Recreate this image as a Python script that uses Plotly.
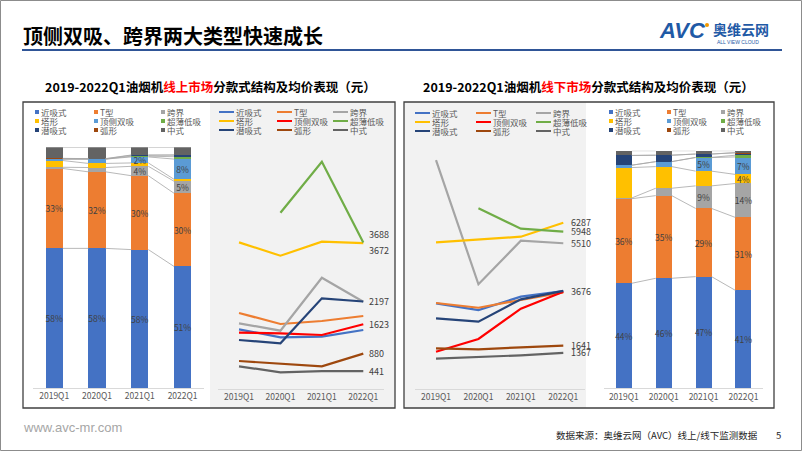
import plotly.graph_objects as go

W, H = 802, 451

# ---------------- data ----------------
quarters = ["2019Q1", "2020Q1", "2021Q1", "2022Q1"]
styles = ["近吸式", "T型", "跨界", "塔形", "顶侧双吸", "超薄低吸", "潜吸式", "弧形", "中式"]

# online market share (%), one row per style (same order as styles)
online_share = [
    [58.0, 58.0, 57.5, 50.5],
    [33.2, 31.8, 30.7, 30.4],
    [0.5, 1.8, 3.9, 5.0],
    [2.8, 1.7, 1.4, 0.8],
    [0.6, 1.8, 2.5, 8.4],
    [0.0, 0.0, 0.3, 1.0],
    [0.2, 0.1, 0.4, 0.7],
    [0.1, 0.1, 0.1, 0.0],
    [4.6, 4.7, 3.2, 3.2],
]
online_labels = [
    ["58%", "58%", "58%", "51%"],
    ["33%", "32%", "30%", "30%"],
    ["", "", "4%", "5%"],
    ["", "", "", ""],
    ["", "", "2%", "8%"],
    ["", "", "", ""],
    ["", "", "", ""],
    ["", "", "", ""],
    ["", "", "", ""],
]
# offline market share (%)
offline_share = [
    [44.2, 46.3, 47.0, 41.2],
    [35.6, 34.8, 28.7, 30.7],
    [0.3, 3.1, 9.5, 14.3],
    [12.8, 9.1, 6.2, 3.8],
    [1.0, 2.1, 5.7, 7.4],
    [0.0, 0.0, 0.1, 0.7],
    [4.1, 2.7, 1.4, 1.0],
    [0.0, 0.0, 0.0, 0.1],
    [2.0, 1.9, 1.4, 0.8],
]
offline_labels = [
    ["44%", "46%", "47%", "41%"],
    ["36%", "35%", "29%", "31%"],
    ["", "", "9%", "14%"],
    ["", "", "", "4%"],
    ["", "", "5%", "7%"],
    ["", "", "", ""],
    ["", "", "", ""],
    ["", "", "", ""],
    ["", "", "", ""],
]
# average price (元)
online_price = [
    [1494, 1293, 1309, 1477],
    [1907, 1629, 1705, 1831],
    [1646, 1460, 2798, 2190],
    [3690, 3354, 3707, 3672],
    [1410, 1393, 1351, 1623],
    [None, 4439, 5727, 3688],
    [1225, 1141, 2277, 2197],
    [694, 619, 560, 880],
    [560, 409, 441, 441],
]
offline_price = [
    [3240, 2988, 3491, 3700],
    [3253, 3075, 3366, 3650],
    [8655, 3959, 5606, 5510],
    [5546, 5659, 5758, 6287],
    [1413, 1893, 3037, 3676],
    [None, 6830, 6060, 5948],
    [2675, 2548, 3392, 3710],
    [1541, 1503, 1579, 1641],
    [1149, 1201, 1277, 1367],
]
# which series carry an end label (index into styles, vertical shift px)
online_end_labels = [(5, 8), (3, -7), (6, 0), (4, 0), (7, 0), (8, 0)]
offline_end_labels = [(3, 0), (5, 0), (2, 0), (4, 0), (7, 0), (8, 0)]

bar_colors = ["#4472C4", "#ED7D31", "#A5A5A5", "#FFC000", "#5B9BD5",
              "#70AD47", "#264478", "#9E480E", "#636363"]
line_colors = ["#4472C4", "#ED7D31", "#A5A5A5", "#FFC000", "#FF0000",
               "#70AD47", "#264478", "#9E480E", "#636363"]

FONT = "Noto Sans CJK SC"


def px_x(p):
    return p / W


def px_y(p):
    return 1 - p / H


fig = go.Figure()
xs = list(range(len(quarters)))
BW = 0.4
shapes = []
annos = []


def add_bars(shares, labels, xa, ya):
    for i, s in enumerate(styles):
        fig.add_trace(go.Bar(
            x=xs, y=shares[i], name=s, width=BW,
            marker=dict(color=bar_colors[i], line=dict(width=0)),
            text=labels[i], textposition="inside", insidetextanchor="middle",
            textangle=0, constraintext="none",
            textfont=dict(family=FONT, size=8.5, color="#404040"),
            xaxis=xa, yaxis=ya, showlegend=False, hoverinfo="skip"))
    # series connector lines between adjacent bars
    lx, ly = [], []
    cum = [0.0] * len(quarters)
    for i in range(len(styles)):
        cum = [c + v for c, v in zip(cum, shares[i])]
        for q in range(len(quarters) - 1):
            lx += [q + BW / 2, q + 1 - BW / 2, None]
            ly += [cum[q], cum[q + 1], None]
    fig.add_trace(go.Scatter(x=lx, y=ly, mode="lines",
                             line=dict(color="#A6A6A6", width=0.8),
                             xaxis=xa, yaxis=ya, showlegend=False,
                             hoverinfo="skip"))


def add_lines(prices, end_labels, xa, ya, xshift):
    for i, s in enumerate(styles):
        fig.add_trace(go.Scatter(
            x=xs, y=prices[i], name=s, mode="lines",
            line=dict(color=line_colors[i], width=2.2),
            connectgaps=False, xaxis=xa, yaxis=ya,
            showlegend=False, hoverinfo="skip"))
    for idx, ys in end_labels:
        v = prices[idx][-1]
        annos.append(dict(x=xs[-1], y=v, xref=xa, yref=ya, text=str(v),
                          showarrow=False, xanchor="left", yanchor="middle",
                          xshift=xshift, yshift=ys,
                          font=dict(family=FONT, size=9, color="#404040")))


add_bars(online_share, online_labels, "x", "y")
add_lines(online_price, online_end_labels, "x2", "y2", 4)
add_lines(offline_price, offline_end_labels, "x3", "y3", 6)
add_bars(offline_share, offline_labels, "x4", "y4")

xcommon = dict(range=[-0.5, 3.5], tickvals=xs, ticktext=quarters, showgrid=False,
               zeroline=False, showline=True, linecolor="#D9D9D9", linewidth=1,
               ticks="", tickfont=dict(family=FONT, size=8.5, color="#595959"),
               fixedrange=True)
ycommon = dict(visible=False, showgrid=False, zeroline=False, fixedrange=True)

fig.update_layout(
    xaxis=dict(domain=[px_x(32.8), px_x(204)], anchor="y", **xcommon),
    yaxis=dict(domain=[px_y(388), px_y(147.3)], range=[0, 100], anchor="x", **ycommon),
    xaxis2=dict(domain=[px_x(218.3), px_x(384)], anchor="y2", **xcommon),
    yaxis2=dict(domain=[px_y(388.5), px_y(150.9)], range=[0, 6000], anchor="x2", **ycommon),
    xaxis3=dict(domain=[px_x(414.8), px_x(584.5)], anchor="y3", **xcommon),
    yaxis3=dict(domain=[px_y(389.1), px_y(150.9)], range=[0, 9000], anchor="x3", **ycommon),
    xaxis4=dict(domain=[px_x(603.9), px_x(763.4)], anchor="y4", **xcommon),
    yaxis4=dict(domain=[px_y(388.3), px_y(150.7)], range=[0, 100], anchor="x4", **ycommon),
)

# page frame
shapes.append(dict(type="rect", xref="paper", yref="paper", x0=px_x(0.5), x1=px_x(801.5),
                   y0=px_y(450.5), y1=px_y(0.5), line=dict(color="#8C8C8C", width=1), layer="below"))
# title underline
shapes.append(dict(type="line", xref="paper", yref="paper", x0=px_x(22), x1=px_x(782),
                   y0=px_y(50), y1=px_y(50), line=dict(color="#2F5597", width=2)))
# grey backgrounds behind line charts
shapes.append(dict(type="rect", xref="paper", yref="paper", x0=px_x(210), x1=px_x(395),
                   y0=px_y(408), y1=px_y(102), fillcolor="#F2F2F2", line=dict(width=0), layer="below"))
shapes.append(dict(type="rect", xref="paper", yref="paper", x0=px_x(404), x1=px_x(586),
                   y0=px_y(408), y1=px_y(102), fillcolor="#F2F2F2", line=dict(width=0), layer="below"))
# panel boxes
for x0, x1 in [(23, 395), (404, 774)]:
    shapes.append(dict(type="rect", xref="paper", yref="paper", x0=px_x(x0), x1=px_x(x1),
                       y0=px_y(408), y1=px_y(102), line=dict(color="#404040", width=1.3)))

# page title
annos.append(dict(x=px_x(21), y=px_y(35), xref="paper", yref="paper", xanchor="left", yanchor="middle",
                  text="<b>顶侧双吸、跨界两大类型快速成长</b>", showarrow=False,
                  font=dict(family=FONT, size=20, color="#000000")))
# logo
annos.append(dict(x=px_x(657), y=px_y(31), xref="paper", yref="paper", xanchor="left", yanchor="middle",
                  text="<b><i>AVC</i></b>", showarrow=False,
                  font=dict(family="Liberation Sans", size=22, color="#1F5AA6")))
shapes.append(dict(type="circle", xref="paper", yref="paper", x0=px_x(705), x1=px_x(709),
                   y0=px_y(27), y1=px_y(23), fillcolor="#F39800", line=dict(width=0)))
annos.append(dict(x=px_x(711), y=px_y(29), xref="paper", yref="paper", xanchor="left", yanchor="middle",
                  text="<b>奥维云网</b>", showarrow=False,
                  font=dict(family=FONT, size=14, color="#1F5AA6")))
annos.append(dict(x=px_x(738), y=px_y(42), xref="paper", yref="paper", xanchor="center", yanchor="middle",
                  text="ALL VIEW CLOUD", showarrow=False,
                  font=dict(family="Liberation Sans", size=5, color="#1F5AA6")))

# panel titles
annos.append(dict(x=px_x(210), y=px_y(87), xref="paper", yref="paper", xanchor="center", yanchor="middle",
                  text="<b>2019-2022Q1油烟机<span style=\"color:#FF0000\">线上市场</span>分款式结构及均价表现（元）</b>",
                  showarrow=False, font=dict(family=FONT, size=12.5, color="#000000")))
annos.append(dict(x=px_x(588), y=px_y(87), xref="paper", yref="paper", xanchor="center", yanchor="middle",
                  text="<b>2019-2022Q1油烟机<span style=\"color:#FF0000\">线下市场</span>分款式结构及均价表现（元）</b>",
                  showarrow=False, font=dict(family=FONT, size=12.5, color="#000000")))


def legend_block(kind, col_x, row_y, colors):
    for i, s in enumerate(styles):
        r, c = divmod(i, 3)
        x = col_x[c]
        y = row_y[r]
        if kind == "bar":
            shapes.append(dict(type="rect", xref="paper", yref="paper",
                               x0=px_x(x), x1=px_x(x + 4), y0=px_y(y + 2), y1=px_y(y - 2),
                               fillcolor=colors[i], line=dict(width=0)))
            tx = x + 5
        else:
            shapes.append(dict(type="line", xref="paper", yref="paper",
                               x0=px_x(x), x1=px_x(x + 15), y0=px_y(y), y1=px_y(y),
                               line=dict(color=colors[i], width=2)))
            tx = x + 16
        annos.append(dict(x=px_x(tx), y=px_y(y), xref="paper", yref="paper", xanchor="left",
                          yanchor="middle", text=s, showarrow=False, borderpad=0,
                          font=dict(family=FONT, size=8.5, color="#595959")))


legend_block("bar", [35, 94, 161], [112, 121, 130], bar_colors)
legend_block("line", [219, 277, 333], [112, 121, 130], line_colors)
legend_block("line", [415, 476, 536], [113, 122, 131], line_colors)
legend_block("bar", [609, 667, 721], [112, 121, 130], bar_colors)

# footer
annos.append(dict(x=px_x(21), y=px_y(427), xref="paper", yref="paper", xanchor="left", yanchor="middle",
                  text="www.avc-mr.com", showarrow=False,
                  font=dict(family="Liberation Sans", size=13, color="#A6A6A6")))
annos.append(dict(x=px_x(760), y=px_y(435), xref="paper", yref="paper", xanchor="right", yanchor="middle",
                  text="数据来源：奥维云网（AVC）线上/线下监测数据", showarrow=False,
                  font=dict(family=FONT, size=9.5, color="#262626")))
annos.append(dict(x=px_x(778), y=px_y(435), xref="paper", yref="paper", xanchor="center", yanchor="middle",
                  text="5", showarrow=False,
                  font=dict(family=FONT, size=9.5, color="#262626")))

fig.update_layout(
    width=W, height=H, margin=dict(l=0, r=0, t=0, b=0, pad=0),
    paper_bgcolor="white", plot_bgcolor="rgba(0,0,0,0)",
    barmode="stack", showlegend=False,
    shapes=shapes, annotations=annos,
    font=dict(family=FONT),
)

fig.write_html("out.html",
               config={"displayModeBar": False},
               post_script="document.body.style.margin='0';document.body.style.overflow='hidden';")
